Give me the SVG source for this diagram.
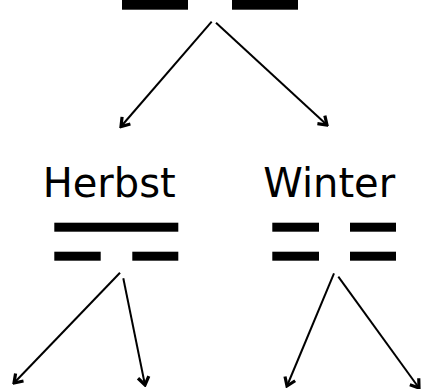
<svg xmlns="http://www.w3.org/2000/svg" width="421" height="389" viewBox="0 0 421 389">
<style>
.bar{fill:#000}
.lbl{font-family:"DejaVu Sans",sans-serif;font-size:40px;fill:#000;text-anchor:middle}
.edge{stroke:#000;stroke-width:2;fill:none;marker-end:url(#ah)}
</style>
<defs>
<marker id="ah" markerUnits="userSpaceOnUse" viewBox="-11 -8 13 16" refX="0" refY="0" markerWidth="13" markerHeight="16" orient="auto">
<polyline points="-8,-5.5 0,0 -8,5.5" fill="none" stroke="#000" stroke-width="3.2" stroke-linejoin="miter"/>
</marker>
</defs>
<rect width="421" height="389" fill="#fff"/>
<g id="top">
<rect class="bar" x="122" y="0" width="66" height="9.7"/>
<rect class="bar" x="232" y="0" width="66" height="9.7"/>
</g>
<g id="herbst">
<text class="lbl" x="109.2" y="197">Herbst</text>
<rect class="bar" x="54.3" y="222.7" width="124" height="9"/>
<rect class="bar" x="54.3" y="251.7" width="46.4" height="9"/>
<rect class="bar" x="132.3" y="251.7" width="46" height="9"/>
</g>
<g id="winter">
<text class="lbl" x="329.2" y="197">Winter</text>
<rect class="bar" x="272.3" y="222.7" width="46.7" height="9"/>
<rect class="bar" x="350" y="222.7" width="46" height="9"/>
<rect class="bar" x="272.3" y="251.7" width="46.7" height="9"/>
<rect class="bar" x="350" y="251.7" width="46" height="9"/>
</g>
<g id="connectors">
<line class="edge" x1="211.7" y1="21.7" x2="121" y2="126.5"/>
<line class="edge" x1="216" y1="22.7" x2="327" y2="125"/>
<line class="edge" x1="120" y1="272.7" x2="14" y2="383"/>
<line class="edge" x1="123.3" y1="278.3" x2="145" y2="385"/>
<line class="edge" x1="334" y1="273.3" x2="287" y2="386"/>
<line class="edge" x1="338.3" y1="276.7" x2="419" y2="388"/>
</g>
</svg>
